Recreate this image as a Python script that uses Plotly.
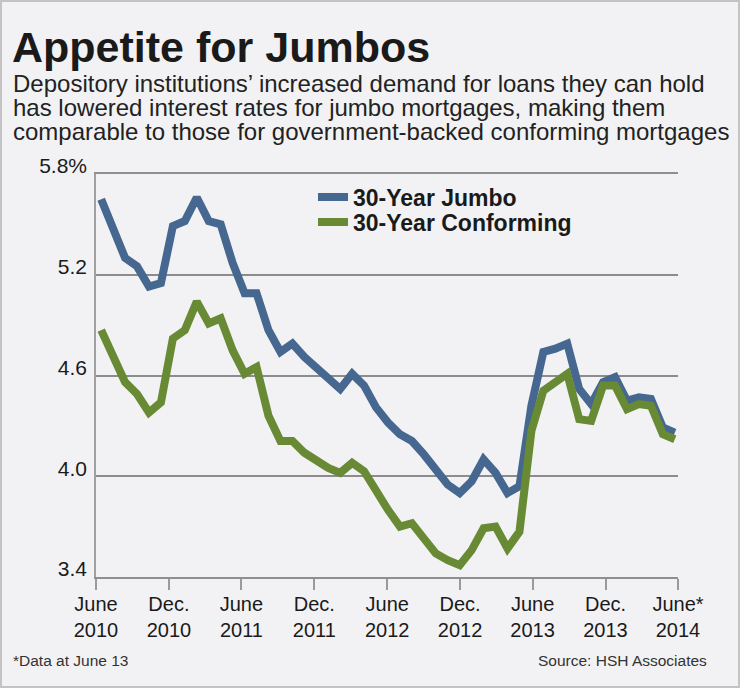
import plotly.graph_objects as go

# ---- data ----
dates = [
    "2010-06-14", "2010-07-14", "2010-08-13", "2010-09-12", "2010-10-12", "2010-11-11",
    "2010-12-11", "2011-01-10", "2011-02-09", "2011-03-11", "2011-04-10", "2011-05-10",
    "2011-06-09", "2011-07-09", "2011-08-08", "2011-09-07", "2011-10-07", "2011-11-06",
    "2011-12-06", "2012-01-05", "2012-02-04", "2012-03-05", "2012-04-04", "2012-05-04",
    "2012-06-03", "2012-07-03", "2012-08-02", "2012-09-01", "2012-10-01", "2012-10-31",
    "2012-11-30", "2012-12-30", "2013-01-29", "2013-02-28", "2013-03-30", "2013-04-29",
    "2013-05-29", "2013-06-28", "2013-07-28", "2013-08-27", "2013-09-26", "2013-10-26",
    "2013-11-25", "2013-12-25", "2014-01-24", "2014-02-23", "2014-03-25", "2014-04-24",
    "2014-05-24",
]
jumbo = [
    5.65, 5.47, 5.30, 5.25, 5.13, 5.15, 5.49, 5.52, 5.66, 5.52,
    5.50, 5.27, 5.09, 5.09, 4.87, 4.74, 4.79, 4.71, 4.65, 4.58,
    4.52, 4.61, 4.54, 4.41, 4.32, 4.25, 4.21, 4.13, 4.04, 3.95,
    3.90, 3.97, 4.10, 4.02, 3.90, 3.94, 4.42, 4.74, 4.76, 4.79,
    4.52, 4.43, 4.56, 4.59, 4.45, 4.47, 4.46, 4.29, 4.26,
]
conforming = [
    4.87, 4.71, 4.56, 4.49, 4.38, 4.44, 4.82, 4.87, 5.04, 4.91,
    4.94, 4.75, 4.61, 4.65, 4.36, 4.21, 4.21, 4.14, 4.09, 4.05,
    4.02, 4.08, 4.03, 3.91, 3.80, 3.70, 3.72, 3.63, 3.54, 3.50,
    3.47, 3.56, 3.69, 3.70, 3.57, 3.67, 4.27, 4.51, 4.56, 4.61,
    4.34, 4.33, 4.54, 4.54, 4.40, 4.43, 4.42, 4.25, 4.22,
]
series_names = ["30-Year Jumbo", "30-Year Conforming"]
x_tick_vals = ["2010-06-01", "2010-12-01", "2011-06-01", "2011-12-01", "2012-06-01",
               "2012-12-01", "2013-06-01", "2013-12-01", "2014-06-01"]
x_tick_text = ["June<br>2010", "Dec.<br>2010", "June<br>2011", "Dec.<br>2011", "June<br>2012",
               "Dec.<br>2012", "June<br>2013", "Dec.<br>2013", "June*<br>2014"]
y_tick_vals = [3.4, 4.0, 4.6, 5.2, 5.8]
y_tick_text = ["3.4", "4.0", "4.6", "5.2", "5.8%"]

title = "Appetite for Jumbos"
subtitle_lines = [
    "Depository institutions\u2019 increased demand for loans they can hold",
    "has lowered interest rates for jumbo mortgages, making them",
    "comparable to those for government-backed conforming mortgages",
]
footnote = "*Data at June 13"
source = "Source: HSH Associates"

# ---- styling / layout ----
W, H = 740, 688
ML, MR, MT, MB = 96, 62, 174, 111
PW, PH = W - ML - MR, H - MT - MB
BG = "#f2f2f4"
BLUE = "#46678f"
GREEN = "#688a34"
SANS = "Liberation Sans, Arial, Helvetica, sans-serif"
INK = "#1a1a1a"


def px_x(x):
    return (x - ML) / PW


def px_y(y):
    return (H - MB - y) / PH


fig = go.Figure()
fig.add_trace(go.Scatter(x=dates, y=jumbo, mode="lines", name=series_names[0],
                         line=dict(color=BLUE, width=8), legend="legend"))
fig.add_trace(go.Scatter(x=dates, y=conforming, mode="lines", name=series_names[1],
                         line=dict(color=GREEN, width=8), legend="legend2"))

legend_font = dict(family=SANS, size=23, color=INK, weight="bold")
fig.update_layout(
    width=W, height=H,
    margin=dict(l=ML, r=MR, t=MT, b=MB, pad=0),
    paper_bgcolor=BG, plot_bgcolor=BG,
    showlegend=True,
    legend=dict(x=px_x(313), y=px_y(197), xanchor="left", yanchor="middle",
                bgcolor="rgba(0,0,0,0)", font=legend_font, itemwidth=30),
    legend2=dict(x=px_x(313), y=px_y(222), xanchor="left", yanchor="middle",
                 bgcolor="rgba(0,0,0,0)", font=legend_font, itemwidth=30),
    xaxis=dict(type="date", range=["2010-06-01", "2014-06-01"],
               tickvals=x_tick_vals, ticktext=x_tick_text,
               ticks="outside", ticklen=11, tickwidth=1.5, tickcolor="#9a9a9a",
               showline=True, linecolor="#8f8f8f", linewidth=2, mirror=True,
               showgrid=False, zeroline=False, ticklabelstandoff=-3,
               tickfont=dict(family=SANS, size=20, color=INK)),
    yaxis=dict(range=[3.4, 5.8], tickvals=y_tick_vals, ticktext=y_tick_text,
               showgrid=True, gridcolor="#8c8c8c", gridwidth=2,
               showline=True, linecolor="#a0a0a0", linewidth=1.5,
               ticks="", zeroline=False, ticklabelstandoff=3, ticklabelshift=-8,
               tickfont=dict(family=SANS, size=21, color=INK)),
)

annotations = [
    dict(text="<b>" + title + "</b>", x=px_x(10), y=px_y(47), xanchor="left", yanchor="middle",
         font=dict(family=SANS, size=43, color=INK)),
]
for i, line in enumerate(subtitle_lines):
    annotations.append(dict(text=line, x=px_x(11), y=px_y(84 + 23.5 * i), xanchor="left",
                            yanchor="middle", font=dict(family=SANS, size=24, color="#222222")))
annotations.append(dict(text=footnote, x=px_x(11), y=px_y(660), xanchor="left", yanchor="middle",
                        font=dict(family=SANS, size=15.5, color="#333333")))
annotations.append(dict(text=source, x=px_x(709), y=px_y(660), xanchor="right", yanchor="middle",
                        font=dict(family=SANS, size=15.5, color="#333333")))
for a in annotations:
    a.update(xref="paper", yref="paper", showarrow=False)
fig.update_layout(annotations=annotations)

fig.add_shape(type="rect", xref="paper", yref="paper",
              x0=px_x(1), x1=px_x(W - 1), y0=px_y(H - 1), y1=px_y(1),
              line=dict(color="#c4c4c4", width=2), fillcolor="rgba(0,0,0,0)", layer="above")

fig.write_html("out.html", config={"displayModeBar": False},
               post_script="document.body.style.margin='0px';")
